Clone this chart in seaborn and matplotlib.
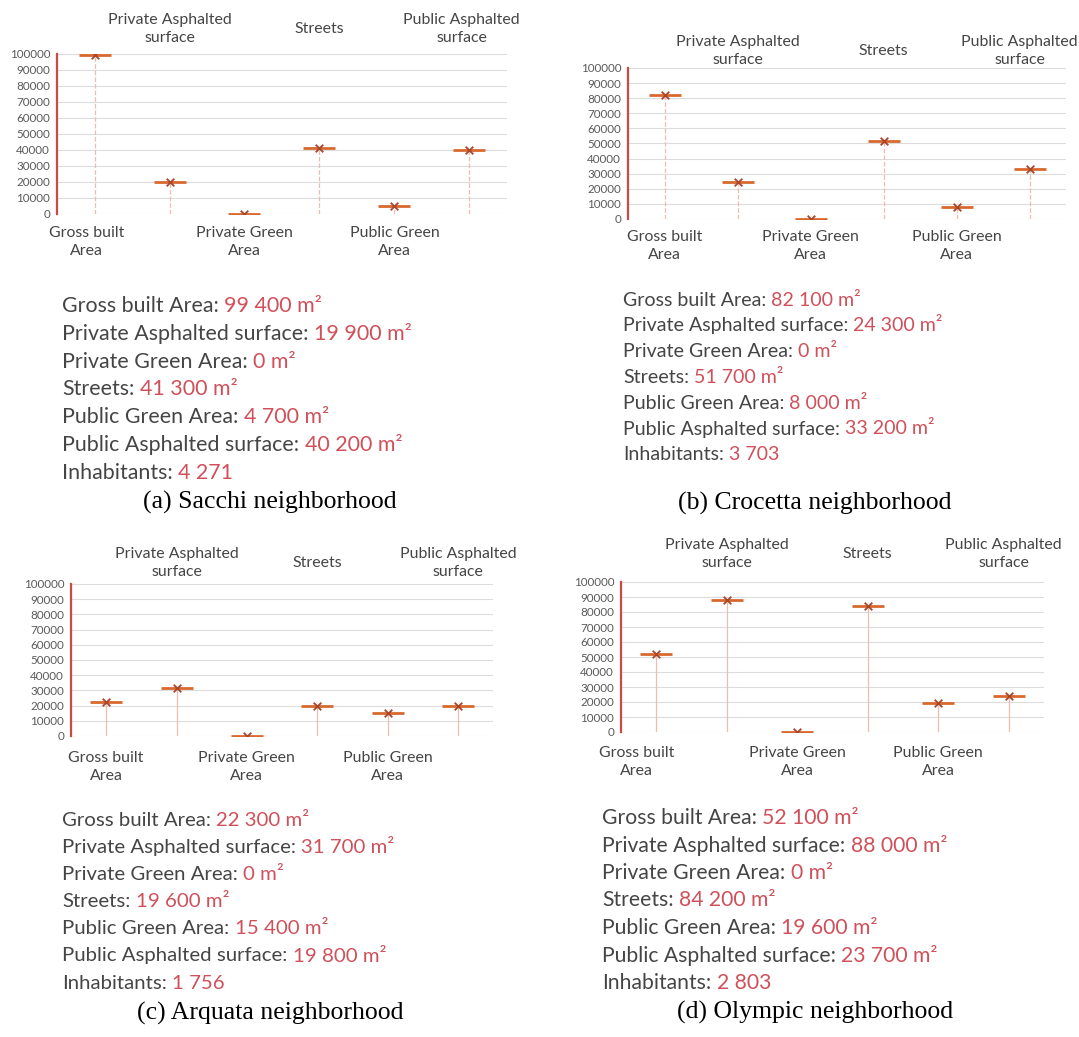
import matplotlib
matplotlib.use("Agg")
import matplotlib.pyplot as plt
import seaborn as sns
import pandas as pd

W, H = 1079, 1037

CATEGORIES = ["Gross built Area", "Private Asphalted surface", "Private Green Area",
              "Streets", "Public Green Area", "Public Asphalted surface"]
AXIS_LABELS = ["Gross built\nArea", "Private Asphalted\nsurface", "Private Green\nArea",
               "Streets", "Public Green\nArea", "Public Asphalted\nsurface"]
Y_TICKS = [0, 10000, 20000, 30000, 40000, 50000, 60000, 70000, 80000, 90000, 100000]

SACCHI   = [99400, 19900, 0, 41300, 4700, 40200]
CROCETTA = [82100, 24300, 0, 51700, 8000, 33200]
ARQUATA  = [22300, 31700, 0, 19600, 15400, 19800]
OLYMPIC  = [52100, 88000, 0, 84200, 19600, 23700]
INHABITANTS = [4271, 3703, 1756, 2803]
CAPTIONS = ["(a) Sacchi neighborhood", "(b) Crocetta neighborhood",
            "(c) Arquata neighborhood", "(d) Olympic neighborhood"]

C_TEXT  = "#454545"
C_VALUE = "#d0505a"
C_DASH  = "#d8692e"
C_CROSS = "#a8452a"
C_DROP  = "#ecbcb2"
C_AXIS  = "#cc4a44"
C_GRID  = "#dcdcdc"
SANS    = "Lato"
SERIF   = "Liberation Serif"

# layout per panel (pixels): axes box, label offsets, text block, caption
PANELS = [
    dict(data=SACCHI, box=(57, 54, 507, 214), top=25, bot=28, shift={0: -8, 5: -8},
         drop="--", tx=62, ty=306, dy=27.8, fs=15.4, cx=270, cy=502),
    dict(data=CROCETTA, box=(628, 68, 1066, 219), top=17, bot=27, shift={5: -10},
         drop="--", tx=623, ty=300, dy=25.8, fs=14.1, cx=815, cy=503),
    dict(data=ARQUATA, box=(71, 584, 493, 736), top=21, bot=31, shift={},
         drop="-", tx=62, ty=820, dy=27.2, fs=14.7, cx=270, cy=1013),
    dict(data=OLYMPIC, box=(621, 582, 1044, 732), top=28, bot=30, shift={0: -20, 5: -5},
         drop="-", tx=602, ty=818, dy=27.5, fs=15.2, cx=815, cy=1012),
]

sns.set_theme(style="white")
plt.rcParams["font.family"] = [SANS, "DejaVu Sans"]

fig = plt.figure(figsize=(W / 100, H / 100), dpi=100)
PX = 0.72  # points per pixel


def fmt(v):
    return f"{v:,}".replace(",", " ")


for i, p in enumerate(PANELS):
    x0, y0, x1, y1 = p["box"]
    ax = fig.add_axes([x0 / W, 1 - y1 / H, (x1 - x0) / W, (y1 - y0) / H])
    df = pd.DataFrame({"pos": range(len(CATEGORIES)), "value": p["data"]})

    ax.vlines(df["pos"], 0, df["value"], color=C_DROP, lw=0.9,
              linestyles=p["drop"], zorder=2)
    sns.scatterplot(data=df, x="pos", y="value", marker="_", s=520,
                    color=C_DASH, linewidth=2.0, ax=ax, zorder=3, legend=False)
    sns.scatterplot(data=df, x="pos", y="value", marker="x", s=30,
                    color=C_CROSS, linewidth=1.3, ax=ax, zorder=4, legend=False)

    ax.set_xlim(-0.5, len(CATEGORIES) - 0.5)
    ax.set_ylim(0, 100000)
    ax.set_yticks(Y_TICKS)
    ax.set_yticklabels([str(t) for t in Y_TICKS])
    ax.set_xticks([])
    ax.set_xlabel("")
    ax.set_ylabel("")
    ax.yaxis.grid(True, color=C_GRID, lw=0.8)
    ax.set_axisbelow(True)
    ax.tick_params(axis="y", length=0, pad=5.0, labelsize=8.4, labelcolor="#5a5a5a")
    for s in ["top", "right", "bottom"]:
        ax.spines[s].set_visible(False)
    ax.spines["left"].set_color(C_AXIS)
    ax.spines["left"].set_linewidth(1.6)

    for j, lab in enumerate(AXIS_LABELS):
        dx = p["shift"].get(j, 0) * PX
        if j % 2 == 1:
            ax.annotate(lab, xy=(j, 1), xycoords=("data", "axes fraction"),
                        xytext=(dx, p["top"] * PX), textcoords="offset points",
                        ha="center", va="center", fontsize=11.4, color=C_TEXT,
                        linespacing=1.35, annotation_clip=False)
        else:
            ax.annotate(lab, xy=(j, 0), xycoords=("data", "axes fraction"),
                        xytext=(dx, -p["bot"] * PX), textcoords="offset points",
                        ha="center", va="center", fontsize=11.4, color=C_TEXT,
                        linespacing=1.35, annotation_clip=False)

    rows = [(c, fmt(v) + " m²") for c, v in zip(CATEGORIES, p["data"])]
    rows.append(("Inhabitants", fmt(INHABITANTS[i])))
    for k, (name, val) in enumerate(rows):
        y = p["ty"] + k * p["dy"]
        t = fig.text(p["tx"] / W, 1 - y / H, name + ":", fontsize=p["fs"],
                     color=C_TEXT, ha="left", va="center")
        ax.annotate(val, xy=(1, 0), xycoords=t, xytext=(p["fs"] * 0.26, 0),
                    textcoords="offset points", ha="left", va="bottom",
                    fontsize=p["fs"], color=C_VALUE, annotation_clip=False)

    fig.text(p["cx"] / W, 1 - p["cy"] / H, CAPTIONS[i], fontsize=18.5,
             family=SERIF, color="black", ha="center", va="center")

fig.savefig("out.png", dpi=100, facecolor="white")
